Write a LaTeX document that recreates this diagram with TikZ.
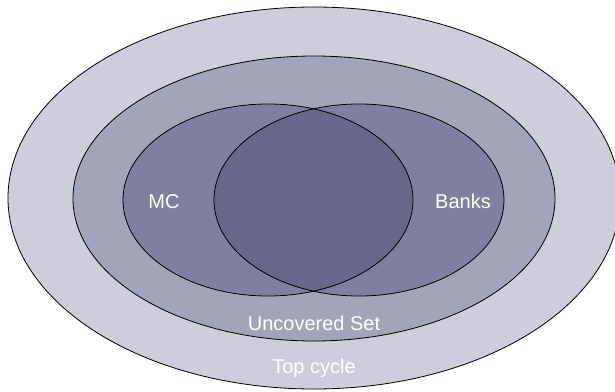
\documentclass[tikz,border=0pt]{standalone}
\usepackage{fontspec}
\setmainfont{Liberation Sans}
\usepackage{tikz}
\definecolor{topfill}{HTML}{CDCDDB}
\definecolor{uncfill}{HTML}{A3A3BA}
\definecolor{setfill}{HTML}{807F9F}
\definecolor{bothfill}{HTML}{67678A}
\tikzstyle{setline} = [draw=black, line width=0.8pt]

\begin{document}
\begin{tikzpicture}[x=1pt, y=-1pt,
    setlabel/.style={text=white, font=\fontsize{20}{24}\selectfont, inner sep=0pt, anchor=base}
  ]
    \useasboundingbox (0,0) rectangle (615,391);
    % nested sets
    \filldraw[setline, fill=topfill] (314,198) ellipse [x radius=306, y radius=191];
    \filldraw[setline, fill=uncfill] (314,198.5) ellipse [x radius=241, y radius=142.5];
    \fill[setfill] (268,200) ellipse [x radius=145, y radius=96];
    \fill[setfill] (359,200) ellipse [x radius=145, y radius=96];
    \begin{scope}
      \clip (268,200) ellipse [x radius=145, y radius=96];
      \fill[bothfill] (359,200) ellipse [x radius=145, y radius=96];
    \end{scope}
    \draw[setline] (268,200) ellipse [x radius=145, y radius=96];
    \draw[setline] (359,200) ellipse [x radius=145, y radius=96];

    \node[setlabel] (mc) at (164,208) {MC};
    \node[setlabel] (banks) at (463,208) {Banks};
    \node[setlabel] (unc) at (314,330) {Uncovered Set};
    \node[setlabel] (top) at (314,373) {Top cycle};
  \end{tikzpicture}
\end{document}
